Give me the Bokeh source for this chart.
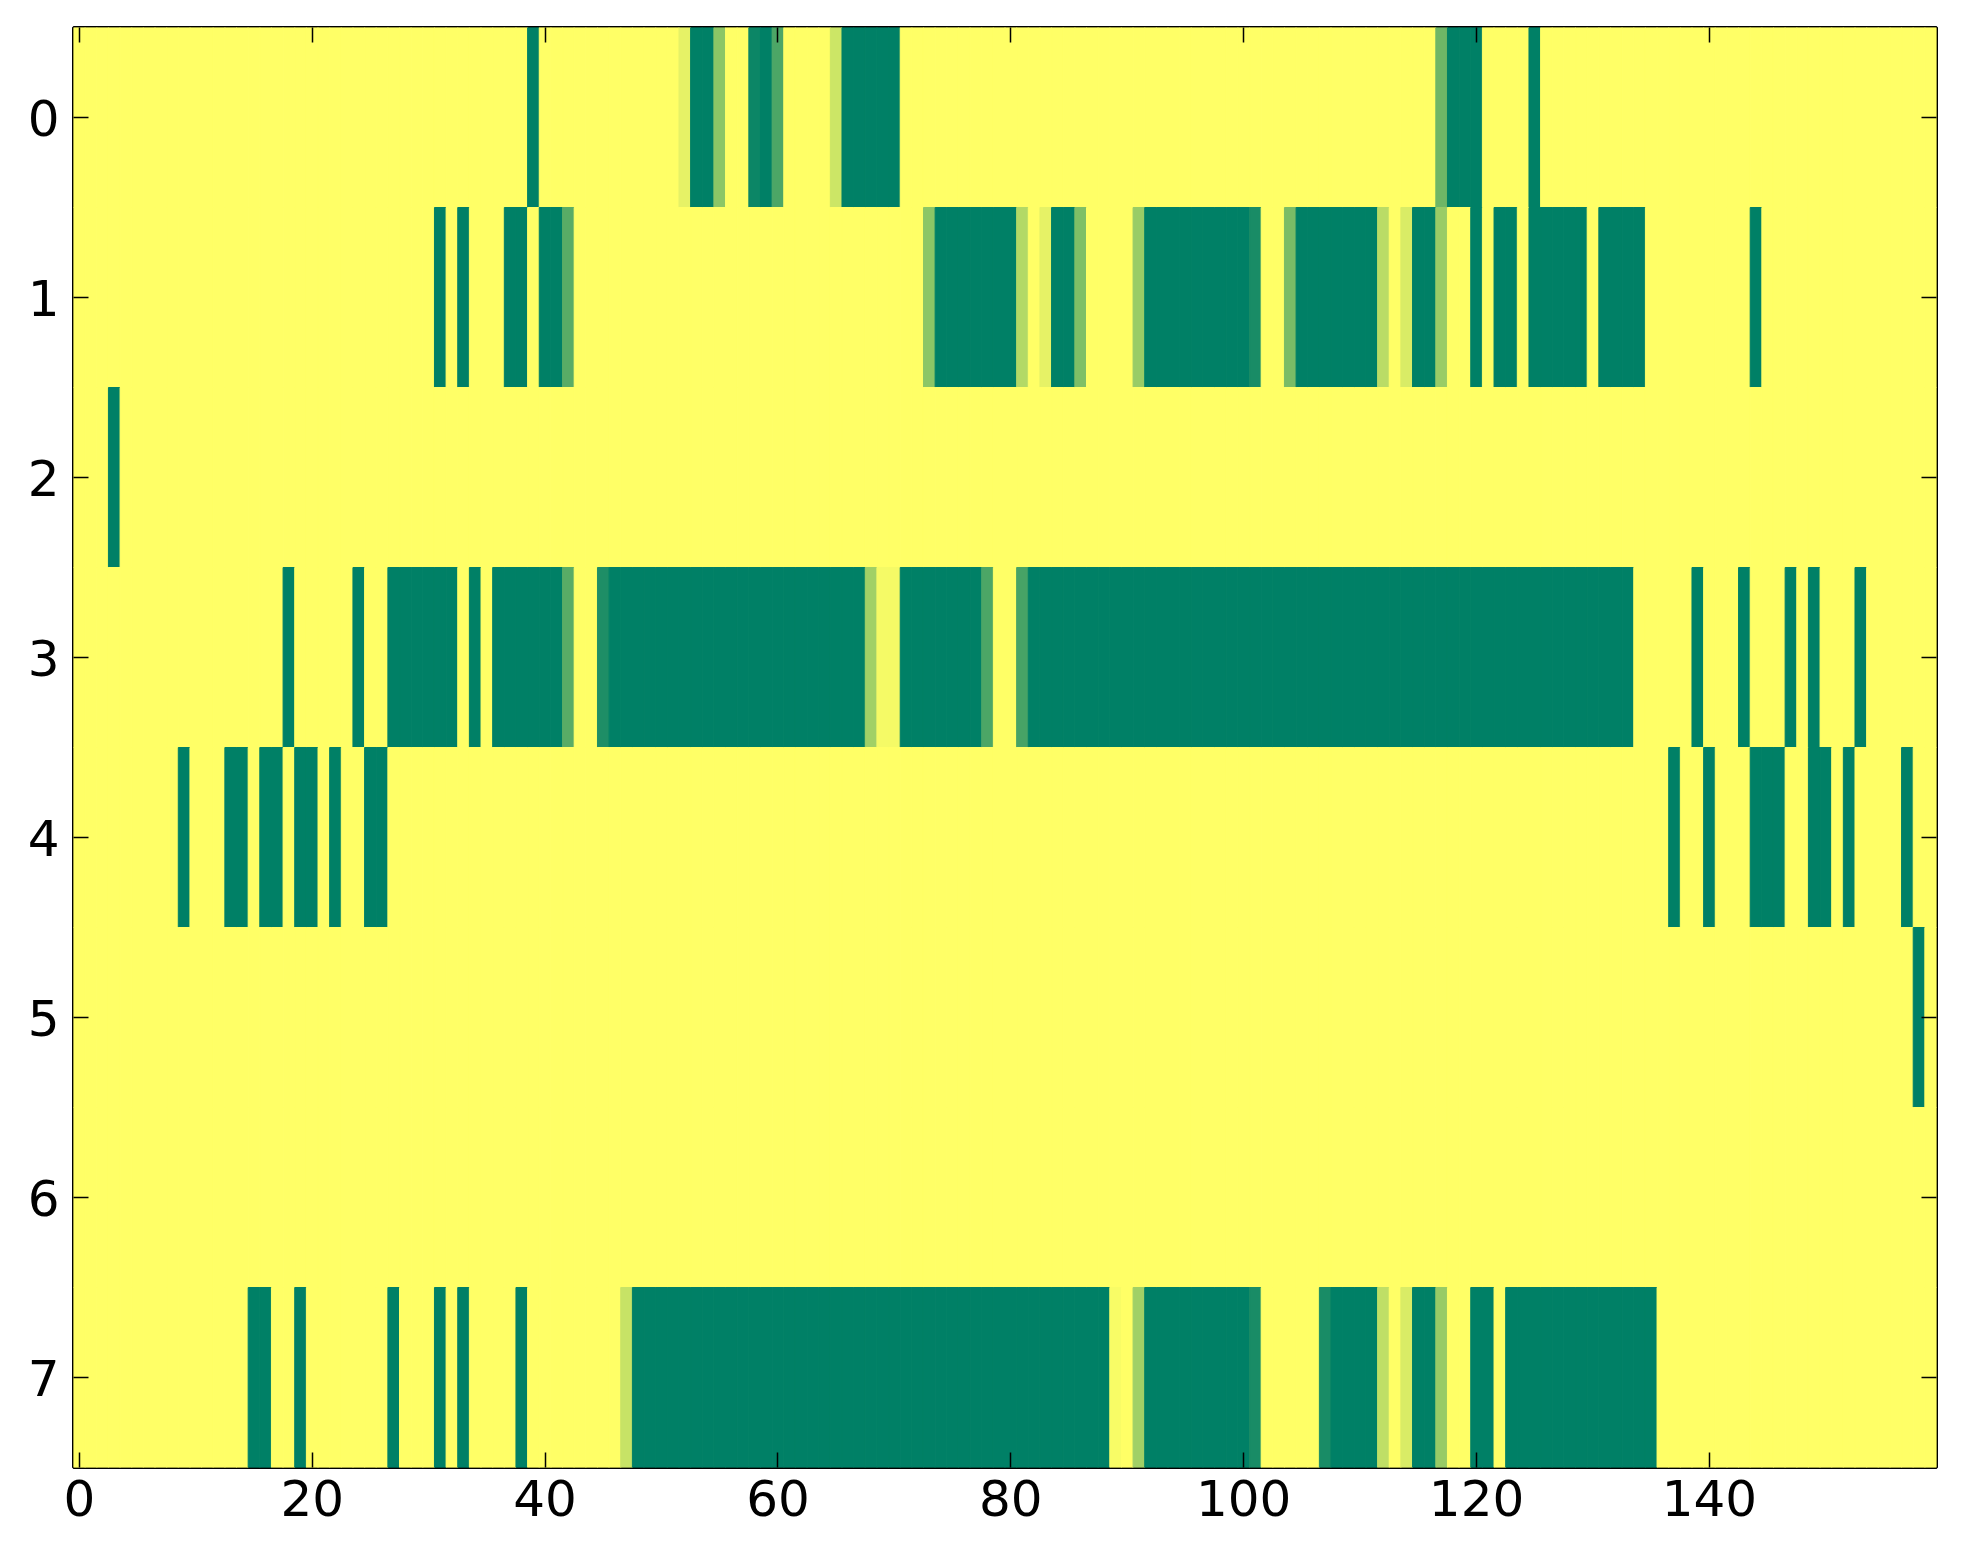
import numpy as np
from bokeh.plotting import figure
from bokeh.models import ColumnDataSource, LinearColorMapper, Range1d, FixedTicker, LinearAxis
from bokeh.transform import transform
from bokeh.embed import file_html
from bokeh.resources import INLINE

# ---------------- data ----------------
n_rows = 8
n_cols = 160
x_ticks = [0, 20, 40, 60, 80, 100, 120, 140]
y_ticks = [0, 1, 2, 3, 4, 5, 6, 7]

# runs of full (value 1) cells: (first column, last column), and partial cells
row0_runs = [(39, 39), (53, 54), (59, 59), (66, 70), (118, 120), (125, 125)]
row0_partial = {52: 0.1, 55: 0.45, 58: 0.95, 60: 0.7, 65: 0.2, 117: 0.57}

row1_runs = [(31, 31), (33, 33), (37, 38), (40, 41), (74, 80), (84, 85), (92, 100),
             (105, 111), (115, 116), (120, 120), (122, 123), (125, 129), (131, 134), (144, 144)]
row1_partial = {42: 0.65, 73: 0.45, 81: 0.3, 83: 0.1, 86: 0.5, 91: 0.4, 101: 0.9,
                104: 0.52, 112: 0.27, 114: 0.15, 117: 0.4}

row2_runs = [(3, 3)]
row2_partial = {}

row3_runs = [(18, 18), (24, 24), (27, 32), (34, 34), (36, 41), (46, 67), (71, 77),
             (82, 133), (139, 139), (143, 143), (147, 147), (149, 149), (153, 153)]
row3_partial = {42: 0.65, 45: 0.88, 68: 0.37, 69: 0.04, 70: 0.04, 78: 0.7, 81: 0.72}

row4_runs = [(9, 9), (13, 14), (16, 17), (19, 20), (22, 22), (25, 26), (137, 137),
             (140, 140), (144, 146), (149, 150), (152, 152), (157, 157)]
row4_partial = {}

row5_runs = [(158, 158)]
row5_partial = {}

row6_runs = []
row6_partial = {}

row7_runs = [(15, 16), (19, 19), (27, 27), (31, 31), (33, 33), (38, 38), (48, 88),
             (92, 100), (108, 111), (115, 116), (120, 121), (123, 135)]
row7_partial = {47: 0.22, 89: 0.03, 91: 0.37, 101: 0.9, 107: 0.9, 112: 0.25,
                114: 0.15, 117: 0.41}

rows_runs = [row0_runs, row1_runs, row2_runs, row3_runs, row4_runs, row5_runs, row6_runs, row7_runs]
rows_partial = [row0_partial, row1_partial, row2_partial, row3_partial, row4_partial,
                row5_partial, row6_partial, row7_partial]

grid = np.zeros((n_rows, n_cols))
for r in range(n_rows):
    for a, b in rows_runs[r]:
        grid[r, a:b + 1] = 1.0
    for c, v in rows_partial[r].items():
        grid[r, c] = v

xs, ys, vs = [], [], []
for r in range(n_rows):
    for c in range(n_cols):
        xs.append(c)
        ys.append(r)
        vs.append(float(grid[r, c]))
src = ColumnDataSource(dict(x=xs, y=ys, v=vs))

# summer_r colormap
palette = []
for i in range(256):
    t = i / 255.0
    r_, g_, b_ = 1 - t, 1 - t / 2, 0.4
    palette.append("#%02x%02x%02x" % (round(r_ * 255), round(g_ * 255), round(b_ * 255)))
mapper = LinearColorMapper(palette=palette, low=0, high=1)

# ---------------- figure ----------------
p = figure(frame_width=1863, frame_height=1440,
           x_range=Range1d(-0.5, n_cols - 0.5), y_range=Range1d(n_rows - 0.5, -0.5),
           output_backend="svg", toolbar_location=None,
           min_border_left=73, min_border_top=27, min_border_right=12, min_border_bottom=75,
           background_fill_color="white", border_fill_color="white")
p.grid.visible = False

p.rect(x="x", y="y", width=1, height=1, source=src,
       fill_color=transform("v", mapper), line_color=transform("v", mapper), line_width=1)

p.outline_line_color = "black"
p.outline_line_width = 3

p.add_layout(LinearAxis(), "above")
p.add_layout(LinearAxis(), "right")

for ax in p.xaxis:
    ax.ticker = FixedTicker(ticks=x_ticks)
for ax in p.yaxis:
    ax.ticker = FixedTicker(ticks=y_ticks)

for ax in p.axis:
    ax.axis_line_color = None
    ax.major_tick_in = 15
    ax.major_tick_out = 0
    ax.major_tick_line_width = 1.5
    ax.major_tick_line_color = "black"
    ax.minor_tick_line_color = None
    ax.major_label_text_font = "DejaVu Sans"
    ax.major_label_text_font_size = "50px"
    ax.major_label_text_color = "black"

p.below[0].major_label_standoff = 12
p.left[0].major_label_standoff = 14

# top/right axes carry ticks only
top_ax = p.above[0]
top_ax.major_label_overrides = {t: "" for t in x_ticks}
top_ax.major_label_text_font_size = "1px"
top_ax.major_label_standoff = 0
right_ax = p.right[0]
right_ax.major_label_overrides = {t: "" for t in y_ticks}
right_ax.major_label_text_font_size = "1px"
right_ax.major_label_standoff = 0

open("out.html", "w").write(file_html(p, INLINE))
